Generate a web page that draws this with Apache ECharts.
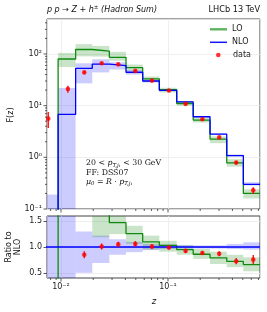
<!DOCTYPE html>
<html><head><meta charset="utf-8">
<script src="https://cdn.jsdelivr.net/npm/echarts@6/dist/echarts.min.js"></script>
<style>html,body{margin:0;padding:0;background:#fff}#c{width:267px;height:312px}</style>
</head><body><div id="c"></div>
<script>
// ---- data ----
const binEdges = [0.0066, 0.0094, 0.0137, 0.0196, 0.0283, 0.0405, 0.058, 0.083, 0.1206, 0.172, 0.247, 0.354, 0.506, 0.724];
const loValues   = [0.001, 80, 122, 114, 86, 54.3, 33, 20.3, 11.0, 5.25, 2.24, 0.78, 0.20];
const loBandLow  = [0.0005, 56, 90, 89, 74, 47, 28.5, 18, 10.0, 4.7, 1.88, 0.66, 0.16];
const loBandHigh = [0.0008, 105, 155, 143, 110, 62.5, 36.6, 22.2, 12.2, 5.86, 2.55, 0.92, 0.24];
const nloValues   = [0.05, 6.8, 52.8, 63.5, 59.6, 44.3, 30, 19.8, 11.8, 6.1, 2.8, 1.08, 0.30];
const nloBandLow  = [0.01, 0.01, 27, 44, 50, 40, 28.2, 19, 11.4, 5.9, 2.72, 1.04, 0.285];
const nloBandHigh = [0.19, 22, 66, 79, 69, 48.7, 31.8, 20.8, 12.3, 6.3, 2.9, 1.14, 0.33];
const dataZ   = [0.0076, 0.0116, 0.0165, 0.024, 0.0343, 0.0495, 0.0708, 0.102, 0.146, 0.2095, 0.301, 0.434, 0.626];
const dataF   = [5.6, 21, 44, 66, 63, 47, 30.5, 19.6, 10.8, 5.45, 2.43, 0.79, 0.23];
const dataErr = [1.9, 3.2, 3, 3.5, 3.5, 2.5, 1.6, 1.0, 0.55, 0.3, 0.14, 0.06, 0.035];
// ratio panel
const ratioZ        = [0.0165, 0.024, 0.0343, 0.0495, 0.0708, 0.102, 0.146, 0.2095, 0.301, 0.434, 0.626];
const dataRatio     = [0.85, 1.01, 1.05, 1.06, 1.01, 0.99, 0.925, 0.885, 0.87, 0.725, 0.755];
const dataRatioErr  = [0.07, 0.06, 0.05, 0.05, 0.05, 0.04, 0.04, 0.04, 0.05, 0.06, 0.09];
const loRatio       = [0.01, 11, 2.3, 1.8, 1.47, 1.26, 1.10, 1.03, 0.95, 0.86, 0.79, 0.72, 0.66];
const loRatioLow    = [0.005, 5, 1.7, 1.19, 1.25, 1.06, 0.95, 0.91, 0.85, 0.77, 0.67, 0.61, 0.53];
const loRatioHigh   = [0.008, 20, 3, 2.3, 1.9, 1.41, 1.22, 1.12, 1.03, 0.96, 0.91, 0.85, 0.80];
const nloRatio      = [1, 1, 1, 1, 1, 1, 1, 1, 1, 1, 1, 1, 1];
const nloRatioLow   = [0, 0, 0.5, 0.69, 0.85, 0.9, 0.94, 0.96, 0.97, 0.97, 0.97, 0.96, 0.95];
const nloRatioHigh  = [5, 5, 1.3, 1.22, 1.15, 1.1, 1.06, 1.05, 1.04, 1.03, 1.03, 1.06, 1.09];
// ticks
const xMajorTicks = [0.01, 0.1];
const xMinorTicks = [0.008, 0.009, 0.02, 0.03, 0.04, 0.05, 0.06, 0.07, 0.08, 0.09, 0.2, 0.3, 0.4, 0.5, 0.6, 0.7];
const yMajorTicks = [0.1, 1, 10, 100];
const yMinorTicks = [0.2,0.3,0.4,0.5,0.6,0.7,0.8,0.9,2,3,4,5,6,7,8,9,20,30,40,50,60,70,80,90,200,300,400];
const ratioTicks = [0.5, 1.0, 1.5];

const X_MIN = 0.0074, X_MAX = 0.724, Y_MIN = 0.1, Y_MAX = 475, R_MIN = 0.4, R_MAX = 1.6;
const FONT = 'DejaVu Sans', SERIF = 'DejaVu Serif';
const C_LO = '#108a10', C_NLO = '#0000ff', C_DATA = '#ff0000';
const F_LO = 'rgba(0,128,0,0.21)', F_NLO = 'rgba(0,0,255,0.2)';

const sup = {'-2':'⁻²','-1':'⁻¹','0':'⁰','1':'¹','2':'²','3':'³'};
function logLabel(v){ const e = Math.log10(v), r = Math.round(e); if (Math.abs(e - r) > 1e-6 || !(String(r) in sup)) return ''; return '10' + sup[String(r)]; }

function stepData(edges, vals){ const d = vals.map((v,i)=>[edges[i], v]); d.push([edges[vals.length], vals[vals.length-1]]); return d; }

function bandSeries(idx, low, high, color){
  return {type:'custom', xAxisIndex:idx, yAxisIndex:idx, silent:true, z:1,
    data: low.map((l,i)=>[binEdges[i], l, binEdges[i+1], high[i]]),
    encode:{x:[0,2], y:[1,3]},
    renderItem(params, api){
      const cs = params.coordSys;
      const a = api.coord([api.value(0), api.value(1)]);
      const b = api.coord([api.value(2), api.value(3)]);
      const x0 = Math.max(Math.min(a[0],b[0]), cs.x), x1 = Math.min(Math.max(a[0],b[0]), cs.x+cs.width);
      const y0 = Math.max(Math.min(a[1],b[1]), cs.y), y1 = Math.min(Math.max(a[1],b[1]), cs.y+cs.height);
      if (!(x1 > x0 && y1 > y0)) return null;
      return {type:'rect', shape:{x:x0, y:y0, width:x1-x0, height:y1-y0}, style:{fill:color}};
    }};
}
function errSeries(idx, xs, ys, es){
  return {type:'custom', xAxisIndex:idx, yAxisIndex:idx, silent:true, z:3,
    data: xs.map((x,i)=>[x, ys[i]-es[i], ys[i]+es[i]]),
    encode:{x:0, y:[1,2]},
    renderItem(params, api){
      const a = api.coord([api.value(0), api.value(1)]);
      const b = api.coord([api.value(0), api.value(2)]);
      return {type:'line', shape:{x1:a[0], y1:a[1], x2:b[0], y2:b[1]}, style:{stroke:C_DATA, lineWidth:1.3}};
    }};
}
function tickSeries(idx, items){
  return {type:'custom', xAxisIndex:idx, yAxisIndex:idx, silent:true, clip:false, z:6,
    data: items, encode:{x:0, y:1},
    renderItem(params, api){
      const cs = params.coordSys;
      const p = api.coord([api.value(0), api.value(1)]);
      const len = api.value(3);
      let shape;
      if (api.value(2) === 0){ const yb = cs.y + cs.height; shape = {x1:p[0], y1:yb, x2:p[0], y2:yb+len}; }
      else { shape = {x1:cs.x, y1:p[1], x2:cs.x-len, y2:p[1]}; }
      return {type:'line', shape, style:{stroke:'#333', lineWidth:0.8}};
    }};
}
const mainTickItems = [].concat(
  xMajorTicks.map(v=>[v, 1, 0, 3.5]), xMinorTicks.map(v=>[v, 1, 0, 2]),
  yMajorTicks.map(v=>[0.01, v, 1, 3.5]), yMinorTicks.map(v=>[0.01, v, 1, 2]));
const ratioTickItems = [].concat(xMajorTicks.map(v=>[v, 1, 0, 3.5]), xMinorTicks.map(v=>[v, 1, 0, 2]));

const splitStyle = {show:true, lineStyle:{color:'#ebebeb', width:0.8}};
const labelStyle = {fontSize:8, fontFamily:FONT, color:'#222'};
const legendText = {fontSize:8, fontFamily:FONT, color:'#222', lineHeight:8};

const option = {
  animation:false,
  backgroundColor:'#fff',
  grid:[
    {left:47, top:19, width:213, height:190, show:true, borderColor:'#444', borderWidth:1},
    {left:47, top:216, width:213, height:62, show:true, borderColor:'#444', borderWidth:1}
  ],
  xAxis:[
    {type:'log', gridIndex:0, min:X_MIN, max:X_MAX, axisLine:{show:false}, axisTick:{show:false}, axisLabel:{show:false}, splitLine:splitStyle},
    {type:'log', gridIndex:1, min:X_MIN, max:X_MAX, axisLine:{show:false}, axisTick:{show:false},
     axisLabel:Object.assign({margin:5, formatter:logLabel}, labelStyle), splitLine:splitStyle}
  ],
  yAxis:[
    {type:'log', gridIndex:0, min:Y_MIN, max:Y_MAX, axisLine:{show:false}, axisTick:{show:false},
     axisLabel:Object.assign({margin:5, formatter:logLabel}, labelStyle), splitLine:splitStyle},
    {type:'value', gridIndex:1, min:R_MIN, max:R_MAX, axisLine:{show:false},
     axisTick:{show:true, customValues:ratioTicks, length:3.5, lineStyle:{color:'#333', width:0.8}},
     axisLabel:Object.assign({margin:5, customValues:ratioTicks, formatter:v=>v.toFixed(1)}, labelStyle), splitLine:splitStyle}
  ],
  legend:[
    {data:[{name:'LO', icon:'rect', itemStyle:{color:'#5db45d'}}], left:210, top:25.3, padding:0,
     itemWidth:17, itemHeight:2.4, selectedMode:false, textStyle:legendText},
    {data:[{name:'NLO', icon:'rect', itemStyle:{color:'#1414ff'}}], left:210, top:38.3, padding:0,
     itemWidth:17, itemHeight:1.5, selectedMode:false, textStyle:legendText},
    {data:[{name:'data', icon:'circle', itemStyle:{color:C_DATA}}], left:216, top:51, padding:0,
     itemWidth:4.6, itemHeight:4.6, selectedMode:false, textStyle:Object.assign({padding:[0,0,0,7.4]}, legendText)}
  ],
  series:[
    bandSeries(0, nloBandLow, nloBandHigh, F_NLO),
    bandSeries(0, loBandLow, loBandHigh, F_LO),
    {type:'line', name:'LO', xAxisIndex:0, yAxisIndex:0, step:'end', symbol:'none', data:stepData(binEdges, loValues), lineStyle:{color:C_LO, width:1.3}, itemStyle:{color:C_LO}, z:2},
    {type:'line', name:'NLO', xAxisIndex:0, yAxisIndex:0, step:'end', symbol:'none', data:stepData(binEdges, nloValues), lineStyle:{color:C_NLO, width:1.3}, itemStyle:{color:C_NLO}, z:2},
    errSeries(0, dataZ, dataF, dataErr),
    {type:'scatter', name:'data', xAxisIndex:0, yAxisIndex:0, data:dataZ.map((z,i)=>[z, dataF[i]]), symbolSize:4.6, itemStyle:{color:C_DATA}, z:4},
    bandSeries(1, nloRatioLow, nloRatioHigh, F_NLO),
    bandSeries(1, loRatioLow, loRatioHigh, F_LO),
    {type:'line', name:'LO', xAxisIndex:1, yAxisIndex:1, step:'end', symbol:'none', data:stepData(binEdges, loRatio), lineStyle:{color:C_LO, width:1.3}, itemStyle:{color:C_LO}, z:2},
    {type:'line', name:'NLO', xAxisIndex:1, yAxisIndex:1, step:'end', symbol:'none', data:stepData(binEdges, nloRatio), lineStyle:{color:C_NLO, width:1.3}, itemStyle:{color:C_NLO}, z:2},
    errSeries(1, ratioZ, dataRatio, dataRatioErr),
    {type:'scatter', name:'data', xAxisIndex:1, yAxisIndex:1, data:ratioZ.map((z,i)=>[z, dataRatio[i]]), symbolSize:4.6, itemStyle:{color:C_DATA}, z:4},
    tickSeries(0, mainTickItems),
    tickSeries(1, ratioTickItems)
  ],
  graphic:[
    {type:'text', x:47, y:10, style:{text:'{i|p p → Z + h}{s|±}{i| (Hadron Sum)}', verticalAlign:'middle', align:'left',
      rich:{i:{fontSize:8, fontFamily:FONT, fontStyle:'italic', lineHeight:11, fill:'#111'}, s:{fontSize:5.6, fontFamily:FONT, fontStyle:'italic', lineHeight:5.6, verticalAlign:'top', fill:'#111'}}}},
    {type:'text', x:260, y:10, style:{text:'LHCb 13 TeV', font:'8.2px "DejaVu Sans"', fill:'#111', align:'right', verticalAlign:'middle'}},
    {type:'text', x:11, y:115, rotation:Math.PI/2, style:{text:'F(z)', font:'8px "DejaVu Sans"', fill:'#111', align:'center', verticalAlign:'middle'}},
    {type:'text', x:13.5, y:247, rotation:Math.PI/2, style:{text:'Ratio to\nNLO', font:'8px "DejaVu Sans"', lineHeight:9, fill:'#111', align:'center', verticalAlign:'middle'}},
    {type:'text', x:154, y:302, style:{text:'z', font:'italic 8.5px "DejaVu Sans"', fill:'#111', align:'center', verticalAlign:'middle'}},
    {type:'text', x:86, y:163.3, style:{text:'{n|20 < }{i|p}{s|T,j₁}{n| < 30 GeV}', verticalAlign:'middle', align:'left',
      rich:{n:{fontSize:7.8, fontFamily:SERIF, lineHeight:10, fill:'#111'}, i:{fontSize:7.8, fontFamily:SERIF, fontStyle:'italic', lineHeight:10, fill:'#111'}, s:{fontSize:5.4, fontFamily:SERIF, fontStyle:'italic', lineHeight:5.4, verticalAlign:'bottom', fill:'#111'}}}},
    {type:'text', x:86, y:172.7, style:{text:'FF: DSS07', font:'7.8px "DejaVu Serif"', fill:'#111', align:'left', verticalAlign:'middle'}},
    {type:'text', x:86, y:181.5, style:{text:'{i|μ}{s|0}{n| = }{i|R}{n| · }{i|p}{s|T,j₁}', verticalAlign:'middle', align:'left',
      rich:{n:{fontSize:7.8, fontFamily:SERIF, lineHeight:10, fill:'#111'}, i:{fontSize:7.8, fontFamily:SERIF, fontStyle:'italic', lineHeight:10, fill:'#111'}, s:{fontSize:5.4, fontFamily:SERIF, fontStyle:'italic', lineHeight:5.4, verticalAlign:'bottom', fill:'#111'}}}}
  ]
};
const chart = echarts.init(document.getElementById('c'));
chart.setOption(option);
</script></body></html>
